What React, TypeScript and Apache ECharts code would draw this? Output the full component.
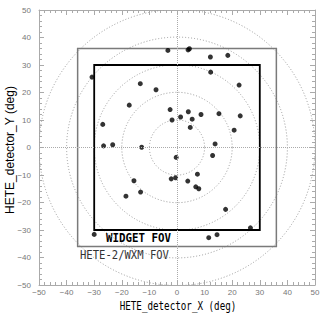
import React, { useEffect, useRef } from "react";
import * as echarts from "echarts";

const burstX = [-3.3, 4.0, 4.5, 12.1, 18.4, -30.8, -13.3, -7.6, -17.3, -2.5, -1.8, -26.9, -26.6, -23.3, -12.8, 12.2, 22.5, 4.1, 1.3, 8.7, 5.5, 15.2, 22.9, 4.8, 20.7, 13.8, 12.9, -0.3, -2.1, -0.5, 3.9, 7.4, 6.8, 7.9, 17.6, 26.6, 11.5, 14.5, -15.6, -13.2, -18.5, -30.0];
const burstY = [35.3, 35.5, 35.9, 32.9, 33.5, 25.6, 23.2, 21.0, 15.4, 13.8, 10.0, 8.4, 0.6, 1.0, 0.1, 27.4, 22.7, 13.0, 11.1, 12.0, 10.3, 12.3, 11.5, 7.3, 6.3, 1.3, -2.9, -3.6, -11.4, -11.0, -12.2, -9.7, -14.3, -15.0, -22.5, -29.2, -32.8, -31.7, -12.1, -16.2, -17.7, -31.6];
const circleRadii = [10, 20, 30, 40, 50];
const fovNames = ["HETE-2/WXM FOV", "WIDGET FOV"];
const fovHalfWidths = [36, 30];
const axisMin = -50;
const axisMax = 50;
const axisStep = 10;
const xAxisName = "HETE_detector_X (deg)";
const yAxisName = "HETE_detector_Y (deg)";

const fovColors = ["#7a7a7a", "#000000"];
const fmt = (v: number) => (v < 0 ? "\u2212" + Math.abs(v) : String(v));

function makeAxis(position: string, showLabel: boolean, isY: boolean) {
  return {
    type: "value",
    min: axisMin,
    max: axisMax,
    interval: axisStep,
    position,
    axisLine: { show: true, onZero: false, lineStyle: { color: "#aaaaaa", width: 1 } },
    axisTick: { show: true, inside: true, length: 5, lineStyle: { color: "#aaaaaa" } },
    minorTick: { show: true, splitNumber: 5, length: 3, lineStyle: { color: "#aaaaaa" } },
    splitLine: { show: false },
    axisLabel: {
      show: showLabel,
      formatter: fmt,
      fontFamily: "Liberation Sans",
      fontSize: 8,
      color: "#777777",
      margin: isY ? 8 : 3,
    },
  };
}

export default function App() {
  const ref = useRef<HTMLDivElement>(null);
  useEffect(() => {
    const chart = echarts.init(ref.current!, null, { renderer: "svg" });
    const points = burstX.map((x, i) => [x, burstY[i]]);
    chart.setOption({
      animation: false,
      backgroundColor: "#ffffff",
      grid: { left: 39, right: 9, top: 10, bottom: 31, containLabel: false },
      xAxis: [makeAxis("bottom", true, false), makeAxis("top", false, false)],
      yAxis: [makeAxis("left", true, true), makeAxis("right", false, true)],
      series: [
        {
          type: "custom",
          clip: true,
          silent: true,
          z: 1,
          data: circleRadii.map((r) => [r, 0]),
          encode: { x: 0, y: 1 },
          renderItem: (params: any, api: any) => {
            const r = api.value(0);
            const c = api.coord([0, 0]);
            const rp = api.size([r, 0])[0];
            return {
              type: "circle",
              shape: { cx: c[0], cy: c[1], r: rp },
              style: { fill: "none", stroke: "#9a9a9a", lineWidth: 1, lineDash: [1, 2] },
            };
          },
        },
        {
          type: "custom",
          clip: true,
          silent: true,
          z: 2,
          data: fovHalfWidths.map((h, i) => [h, 0, i]),
          encode: { x: 0, y: 1 },
          renderItem: (params: any, api: any) => {
            const h = api.value(0);
            const idx = params.dataIndex;
            const p1 = api.coord([-h, h]);
            const p2 = api.coord([h, -h]);
            return {
              type: "rect",
              shape: { x: p1[0], y: p1[1], width: p2[0] - p1[0], height: p2[1] - p1[1] },
              style: { fill: "none", stroke: fovColors[idx], lineWidth: idx === 1 ? 1.8 : 1.5 },
            };
          },
        },
        {
          type: "scatter",
          z: 3,
          symbol: "circle",
          symbolSize: 5,
          itemStyle: { color: "#000000" },
          data: points,
          markLine: {
            silent: true,
            symbol: ["none", "none"],
            label: { show: false },
            lineStyle: { type: "dotted", color: "#aaaaaa", width: 1 },
            data: [{ xAxis: 0 }, { yAxis: 0 }],
          },
        },
      ],
      graphic: [
        {
          type: "text",
          x: 106,
          y: 238,
          scaleX: 0.9,
          style: {
            text: fovNames[1],
            fontFamily: "DejaVu Sans Mono",
            fontWeight: "bold",
            fontSize: 12,
            fill: "#000000",
            textAlign: "left",
            textVerticalAlign: "middle",
          },
        },
        {
          type: "text",
          x: 80,
          y: 255,
          scaleX: 0.88,
          style: {
            text: fovNames[0],
            fontFamily: "DejaVu Sans Mono",
            fontSize: 12,
            fill: "#333333",
            textAlign: "left",
            textVerticalAlign: "middle",
          },
        },
        {
          type: "text",
          x: 178,
          y: 306,
          scaleX: 0.77,
          style: {
            text: xAxisName,
            fontFamily: "DejaVu Sans Mono",
            fontSize: 12,
            fill: "#000000",
            textAlign: "center",
            textVerticalAlign: "middle",
          },
        },
        {
          type: "text",
          x: 10,
          y: 150,
          rotation: Math.PI / 2,
          style: {
            text: yAxisName,
            fontFamily: "Liberation Sans",
            fontSize: 12,
            fill: "#000000",
            textAlign: "center",
            textVerticalAlign: "middle",
          },
        },
      ],
    });
    return () => chart.dispose();
  }, []);
  return <div ref={ref} style={{ position: "fixed", left: 0, top: 0, width: 324, height: 316 }} />;
}
